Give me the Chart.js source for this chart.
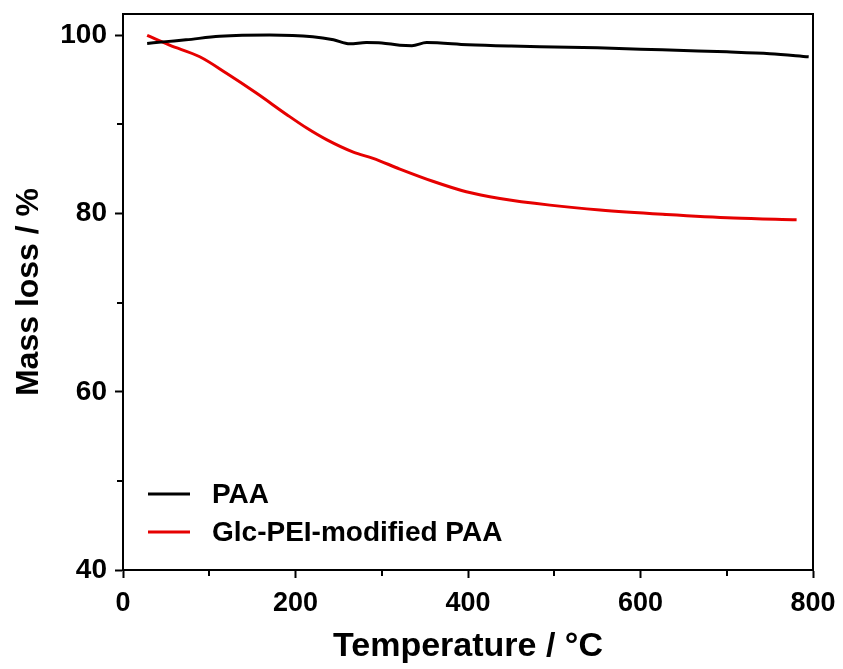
<!DOCTYPE html>
<html>
<head>
<meta charset="utf-8">
<script src="https://cdn.jsdelivr.net/npm/chart.js@4.4.0/dist/chart.umd.min.js"></script>
<style>
  html, body { margin: 0; padding: 0; background: #fff; }
  #wrap { width: 843px; height: 669px; position: relative; }
</style>
</head>
<body>
<div id="wrap"><canvas id="c" width="843" height="669"></canvas></div>
<script>
// ---- data ----
const seriesNames = ["PAA", "Glc-PEI-modified PAA"];
const tempPAA = [28, 50, 73, 112, 170, 220, 244, 263, 282, 300, 321, 335, 352, 400, 450, 500, 550, 600, 650, 700, 750, 795];
const massPAA = [99.1, 99.3, 99.5, 99.9, 100.05, 99.85, 99.5, 99.05, 99.2, 99.15, 98.9, 98.85, 99.2, 98.95, 98.8, 98.7, 98.6, 98.45, 98.3, 98.15, 97.95, 97.6];
const tempGlc = [28, 54, 89, 120, 155, 190, 213, 236, 267, 290, 321, 360, 398, 437, 495, 553, 630, 708, 781];
const massGlc = [100, 98.9, 97.6, 95.75, 93.5, 91.1, 89.6, 88.3, 86.9, 86.2, 85.0, 83.6, 82.45, 81.7, 80.95, 80.4, 79.9, 79.5, 79.3];
const xMajorTicks = [0, 200, 400, 600, 800];
const xMinorTicks = [100, 300, 500, 700];
const yMajorTicks = [40, 60, 80, 100];
const yMinorTicks = [50, 70, 90];
const xTitle = "Temperature / \u00B0C";
const yTitle = "Mass loss / %";

const FONT = "'Liberation Sans', Arial, sans-serif";
const colors = ["#000000", "#e60000"];

function pts(xs, ys) { return xs.map((x, i) => ({ x: x, y: ys[i] })); }

const framePlugin = {
  id: 'frame',
  afterDraw(chart) {
    const ctx = chart.ctx, a = chart.chartArea;
    const xs = chart.scales.x, ys = chart.scales.y;
    ctx.save();
    ctx.strokeStyle = '#000';
    ctx.lineWidth = 2;
    ctx.beginPath();
    ctx.moveTo(a.left, a.top); ctx.lineTo(a.right, a.top); ctx.lineTo(a.right, a.bottom);
    ctx.stroke();
    ctx.beginPath();
    xMinorTicks.forEach(v => { const px = Math.round(xs.getPixelForValue(v)); ctx.moveTo(px, a.bottom); ctx.lineTo(px, a.bottom + 6); });
    yMinorTicks.forEach(v => { const py = Math.round(ys.getPixelForValue(v)); ctx.moveTo(a.left, py); ctx.lineTo(a.left - 6, py); });
    ctx.stroke();
    const items = chart.data.datasets;
    const lx0 = 148, lx1 = 190, tx = 212;
    const rowY = [494, 532];
    ctx.font = "bold 28px " + FONT;
    ctx.textBaseline = 'middle';
    ctx.textAlign = 'left';
    items.forEach((ds, i) => {
      ctx.strokeStyle = ds.borderColor;
      ctx.lineWidth = 3;
      ctx.beginPath(); ctx.moveTo(lx0, rowY[i]); ctx.lineTo(lx1, rowY[i]); ctx.stroke();
      ctx.fillStyle = '#000';
      ctx.fillText(ds.label, tx, rowY[i] + 1);
    });
    ctx.restore();
  }
};

new Chart(document.getElementById('c'), {
  type: 'line',
  data: {
    datasets: [
      { label: seriesNames[0], data: pts(tempPAA, massPAA), borderColor: colors[0], borderWidth: 3, pointRadius: 0, cubicInterpolationMode: 'monotone', fill: false },
      { label: seriesNames[1], data: pts(tempGlc, massGlc), borderColor: colors[1], borderWidth: 3, pointRadius: 0, cubicInterpolationMode: 'monotone', fill: false }
    ]
  },
  options: {
    responsive: false,
    animation: false,
    layout: { padding: { left: 0, top: 14, right: 30, bottom: 0 } },
    plugins: { legend: { display: false }, tooltip: { enabled: false } },
    scales: {
      x: {
        type: 'linear', min: 0, max: 800,
        afterBuildTicks: s => { s.ticks = xMajorTicks.map(v => ({ value: v })); },
        afterFit: s => { s.height = 99; s.paddingLeft = 0; s.paddingRight = 0; },
        grid: { display: true, drawOnChartArea: false, drawTicks: true, tickLength: 8, tickWidth: 2, tickColor: '#000' },
        border: { display: true, width: 2, color: '#000' },
        ticks: { color: '#000', font: { family: FONT, size: 27, weight: 'bold' }, padding: 9, maxRotation: 0 },
        title: { display: true, text: xTitle, color: '#000', font: { family: FONT, size: 34, weight: 'bold' }, padding: { top: 0, bottom: 2 } }
      },
      y: {
        type: 'linear', min: 40, max: 102.4,
        afterBuildTicks: s => { s.ticks = yMajorTicks.map(v => ({ value: v })); },
        afterFit: s => { s.width = 123; s.paddingTop = 0; s.paddingBottom = 0; },
        grid: { display: true, drawOnChartArea: false, drawTicks: true, tickLength: 8, tickWidth: 2, tickColor: '#000' },
        border: { display: true, width: 2, color: '#000' },
        ticks: { color: '#000', font: { family: FONT, size: 28, weight: 'bold' }, padding: 8 },
        title: { display: true, text: yTitle, color: '#000', font: { family: FONT, size: 32, weight: 'bold' }, padding: { top: 10, bottom: 0 } }
      }
    }
  },
  plugins: [framePlugin]
});
</script>
</body>
</html>
